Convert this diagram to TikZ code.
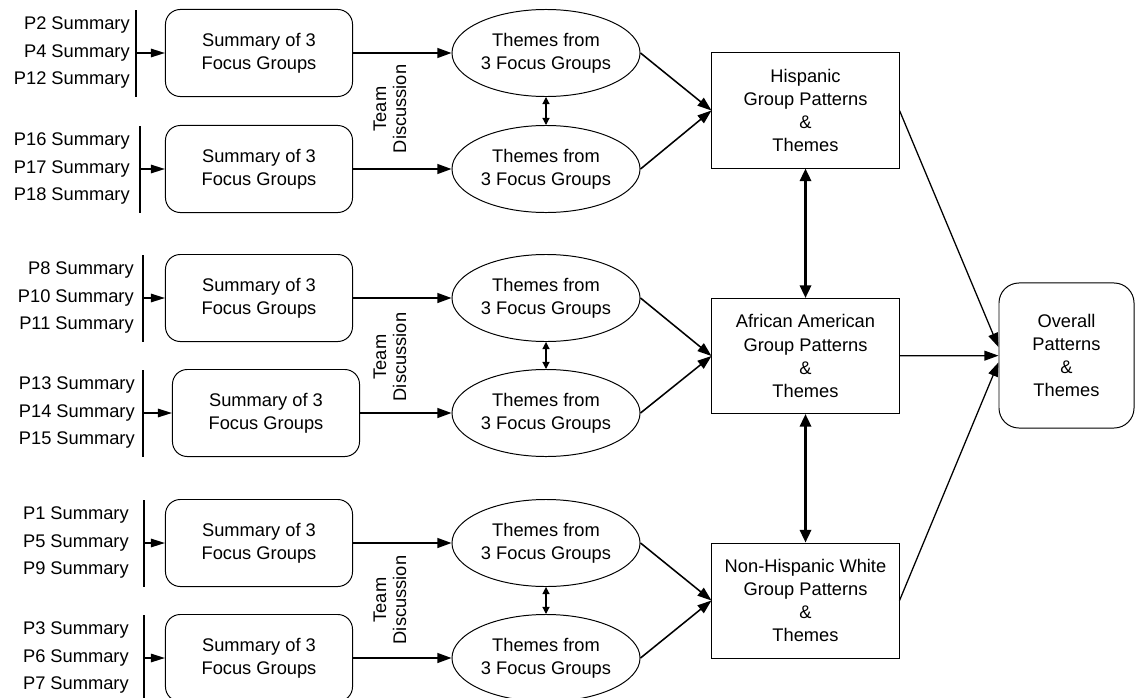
\documentclass[tikz,border=0pt]{standalone}
\usepackage{fontspec}
\setmainfont{Liberation Sans}
\usetikzlibrary{shapes.geometric,arrows.meta}

\begin{document}
\begin{tikzpicture}[x=0.025cm,y=-0.025cm,
    font=\fontsize{13}{16.4}\selectfont,
    sumbox/.style={draw,rounded corners=0.37cm,minimum width=4.675cm,minimum height=2.175cm,align=center,line width=0.7pt},
    theme/.style={draw,ellipse,minimum width=4.7cm,minimum height=2.175cm,inner sep=0pt,align=center,line width=0.7pt},
    groupbox/.style={draw,minimum width=4.675cm,minimum height=2.875cm,align=center,line width=0.7pt},
    overall/.style={draw,rounded corners=0.5cm,minimum width=3.375cm,minimum height=3.625cm,align=center,line width=0.7pt},
    plabel/.style={anchor=east,inner sep=0pt},
    team/.style={rotate=90,align=center,inner sep=0pt,font=\fontsize{13}{14.2}\selectfont},
    feed/.style={line width=1.1pt,-{Triangle[length=10pt,width=6pt]}},
    link/.style={line width=1.1pt,-{Triangle[length=10pt,width=7pt]}},
    talk/.style={line width=0.8pt,{Triangle[length=5pt,width=5pt]}-{Triangle[length=5pt,width=5pt]}},
    compare/.style={line width=1.8pt,{Triangle[length=9pt,width=8pt]}-{Triangle[length=9pt,width=8pt]}}]

    \useasboundingbox (0,0) rectangle (1136,697);

    % Rows of summaries: labels, bar, summary box, themes
    \foreach \r/\y/\bx/\cx/\rx/\a/\b/\c in {1/53/136/259/130/2/4/12,
        2/169/140/259/130/16/17/18, 3/298/143/259/134/8/10/11,
        4/413/143/266/135/13/14/15, 5/543/144/259/129/1/5/9,
        6/658/144/259/129/3/6/7} {
        \node[plabel] (P\a) at (\rx,\y-27.5) {P\a{} Summary};
        \node[plabel] (P\b) at (\rx,\y) {P\b{} Summary};
        \node[plabel] (P\c) at (\rx,\y+27.5) {P\c{} Summary};
        \draw[line width=0.8pt] (\bx,\y-43) -- (\bx,\y+44);
        \coordinate (bar\r) at (\bx,\y);
        \node[sumbox] (sum\r) at (\cx,\y) {Summary of 3\\Focus Groups};
        \node[theme] (th\r) at (546,\y) {Themes from\\3 Focus Groups};
        \draw[feed] (bar\r) -- (sum\r);
        \draw[link] (sum\r) -- (th\r);
    }

    % Team discussion between pairs
    \node[team] (td1) at (390,109) {Team\\Discussion};
    \node[team] (td2) at (390,357) {Team\\Discussion};
    \node[team] (td3) at (390,600) {Team\\Discussion};
    \draw[talk] (th1) -- (th2);
    \draw[talk] (th3) -- (th4);
    \draw[talk] (th5) -- (th6);

    % Group patterns
    \node[groupbox] (hisp) at (805.5,110.5) {Hispanic\\Group Patterns\\\&\\Themes};
    \node[groupbox] (afam) at (805.5,356) {African American\\Group Patterns\\\&\\Themes};
    \node[groupbox] (nhw) at (805.5,600.5) {Non-Hispanic White\\Group Patterns\\\&\\Themes};
    \node[overall] (ov) at (1066.5,355.5) {Overall\\Patterns\\\&\\Themes};

    \draw[link] (th1.east) -- (hisp.west);
    \draw[link] (th2.east) -- (hisp.west);
    \draw[link] (th3.east) -- (afam.west);
    \draw[link] (th4.east) -- (afam.west);
    \draw[link] (th5.east) -- (nhw.west);
    \draw[link] (th6.east) -- (nhw.west);

    \draw[compare] (hisp) -- (afam);
    \draw[compare] (afam) -- (nhw);

    % Overall
    \draw[link,line width=0.9pt] (hisp.east) -- ([yshift=0.21cm]ov.west);
    \draw[link,line width=0.9pt] (afam) -- (ov);
    \draw[link,line width=0.9pt] (nhw.east) -- ([yshift=-0.17cm]ov.west);

\end{tikzpicture}
\end{document}
